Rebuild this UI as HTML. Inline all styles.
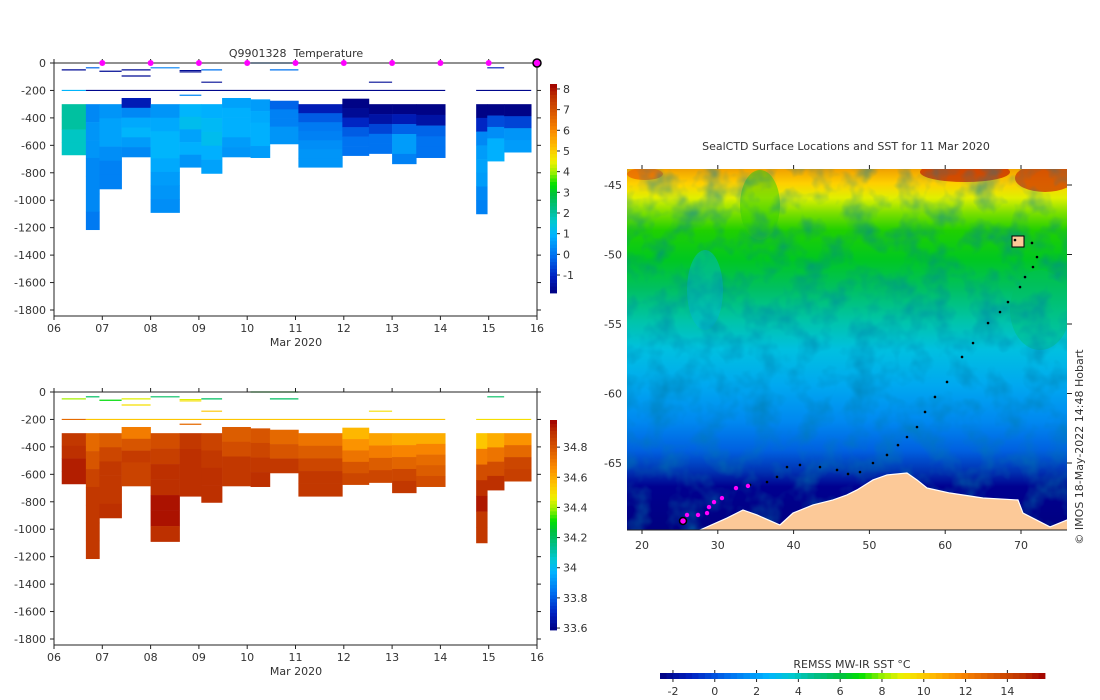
<!DOCTYPE html>
<html><head><meta charset="utf-8"><style>
html,body{margin:0;padding:0;background:#fff;}
svg{display:block;font-family:"DejaVu Sans","Liberation Sans",sans-serif;}
text{fill:#333;font-size:11px;white-space:pre;}
</style></head><body>
<svg id="root" width="1100" height="700" viewBox="0 0 1100 700">
<defs>
<linearGradient id="sstGrad" x1="0" y1="0" x2="0" y2="1">
<stop offset="0" stop-color="#f0a000"/><stop offset="0.04" stop-color="#ffd000"/>
<stop offset="0.08" stop-color="#e0f000"/><stop offset="0.12" stop-color="#80e000"/>
<stop offset="0.17" stop-color="#20d000"/><stop offset="0.25" stop-color="#00c820"/>
<stop offset="0.33" stop-color="#00c060"/><stop offset="0.42" stop-color="#00c4a8"/>
<stop offset="0.5" stop-color="#00c0e0"/><stop offset="0.6" stop-color="#00a8f0"/>
<stop offset="0.7" stop-color="#0088f0"/><stop offset="0.78" stop-color="#0060e0"/>
<stop offset="0.84" stop-color="#0030b0"/><stop offset="0.88" stop-color="#000090"/>
<stop offset="1" stop-color="#000080"/>
</linearGradient>
<filter id="noise" x="0" y="0" width="100%" height="100%">
<feTurbulence type="fractalNoise" baseFrequency="0.04" numOctaves="3" seed="4"/>
<feColorMatrix type="matrix" values="0 0 0 0 0  0 0 0 0 0.2  0 0 0 0 0.4  0 0 0 1.2 -0.5"/>
</filter>
<clipPath id="mapClip"><rect x="627" y="169" width="440" height="361"/></clipPath>
</defs>
<g id="top"></g>
<g id="bot"></g>
<g id="map"></g>
</svg>
<script>
const NS="http://www.w3.org/2000/svg";
// ---- profile data ----
const colStart=[6.16,6.66,6.94,7.40,8.00,8.60,9.05,9.48,10.07,10.47,11.06,11.97,12.52,13.00,13.50,14.74,14.97,15.32];
const colEnd  =[6.66,6.94,7.40,8.00,8.60,9.05,9.48,10.07,10.47,11.06,11.97,12.52,13.00,13.50,14.10,14.97,15.32,15.88];
const colTop  =[300,300,300,255,300,300,300,255,265,275,300,260,300,300,300,300,300,300];
const colBottom=[670,1215,918,685,1090,760,805,685,690,590,760,675,660,735,690,1100,715,650];
const tempLayers=[[2.0,2.0,1.7,1.7],[0.3,0.5,0.5,0.3,0.3,0.3,0.1],[0.5,0.7,0.7,0.4,0.2,0.2],[-1.2,0.3,0.8,1.0,0.6,0.3],
[0.5,0.8,1.0,1.0,0.8,0.6,0.5,0.4],[1.0,1.2,0.7,0.9,0.5],[0.9,1.1,1.2,0.9,0.7],[0.7,0.9,0.9,0.9,0.6,0.5],[0.6,0.8,0.9,0.9,0.6],
[-0.2,0.2,0.2,0.5,0.5],[-1.2,-0.3,0.1,0.2,0.4,0.5,0.5],[-1.8,-1.6,-1.0,-0.3,0.0,0.0],[-1.8,-1.4,-0.6,0.0,0.0],
[-1.8,-1.2,-0.2,0.6,0.6,0.2],[-1.8,-1.4,-0.2,0.0,0.0],[-1.8,-1.0,0.3,0.6,0.7,0.6,0.3,0.2],[-1.8,-0.5,0.4,0.9,0.9],[-1.8,-0.6,0.5,0.6]];
const salLayers=[[34.88,34.9,34.93,34.93],[34.75,34.8,34.85,34.88,34.88,34.88,34.88],[34.78,34.84,34.88,34.88,34.88,34.9],
[34.7,34.8,34.87,34.85,34.85],[34.82,34.86,34.9,34.9,34.95,34.95,34.9],[34.88,34.9,34.9,34.9],[34.85,34.88,34.9,34.9],
[34.78,34.82,34.88,34.88],[34.8,34.84,34.88,34.9],[34.75,34.8,34.88],[34.72,34.78,34.84,34.88,34.88],
[34.58,34.65,34.72,34.8,34.84],[34.62,34.7,34.78,34.84],[34.6,34.68,34.76,34.84,34.88],[34.6,34.68,34.74,34.78,34.82],
[34.55,34.7,34.82,34.9,34.94,34.88,34.88],[34.6,34.72,34.82,34.9],[34.65,34.75,34.84,34.86]];
const segStart=[6.16,6.66,6.94,7.40,7.40,8.00,8.60,8.60,9.05,9.05,10.47,10.07,12.52,14.97,6.16,6.66,14.74,8.60];
const segEnd  =[6.66,6.94,7.40,8.00,8.00,8.60,9.05,9.05,9.48,9.48,11.06,11.06,13.00,15.32,6.66,14.10,15.88,9.05];
const segDepth=[50,35,60,50,95,35,55,65,50,140,50,0,140,35,200,200,200,235];
const segTemp =[-1.6,-0.2,-1.6,-1.6,-1.6,0.2,-1.6,-1.6,0.0,-1.6,0.0,0.0,-1.6,-1.2,1.0,-1.7,-1.7,0.3];
const segSal  =[34.4,34.2,34.3,34.45,34.5,34.2,34.45,34.5,34.2,34.55,34.2,34.28,34.5,34.2,34.75,34.55,34.5,34.75];
const markerDays=[7,8,9,10,11,12,13,14,15];
const dayTicks=[6,7,8,9,10,11,12,13,14,15,16];
const dayLabels=["06","07","08","09","10","11","12","13","14","15","16"];
const depthTicks=[0,-200,-400,-600,-800,-1000,-1200,-1400,-1600,-1800];
const tempCbTicks=[8,7,6,5,4,3,2,1,0,-1];
const salCbTicks=[34.8,34.6,34.4,34.2,34,33.8,33.6];
// ---- map data ----
const trackLon=[69.21,71.45,72.11,71.58,70.53,69.87,68.28,67.23,65.65,63.67,62.22,60.24,58.65,57.34,56.28,54.96,53.77,52.32,50.47,48.76,47.18,45.73,43.48,40.84,39.13,37.81,36.49,34.25];
const trackLat=[-48.96,-49.17,-50.18,-50.9,-51.62,-52.34,-53.42,-54.14,-54.93,-56.37,-57.37,-59.17,-60.25,-61.33,-62.41,-63.13,-63.71,-64.42,-65.0,-65.65,-65.79,-65.5,-65.29,-65.14,-65.29,-66.0,-66.37,-66.58];
const recentLon=[33.98,32.4,30.55,29.5,28.84,28.58,27.39,25.94];
const recentLat=[-66.65,-66.8,-67.52,-67.81,-68.17,-68.6,-68.74,-68.74];
const lastLon=[25.41], lastLat=[-69.17];
const lonTicks=[20,30,40,50,60,70];
const latTicks=[-45,-50,-55,-60,-65];
const sstTicks=[-2,0,2,4,6,8,10,12,14];
const coastLon=[18,27.65,31.21,33.32,35.17,38.2,39.92,42.56,45.2,47.04,48.36,50.47,52.32,54.96,56.28,57.6,60.63,64.99,69.6,70.26,73.83,76.07,77,77,18];
const coastLat=[-70.5,-69.82,-68.96,-68.38,-68.74,-69.46,-68.6,-68.02,-67.66,-67.3,-66.94,-66.22,-65.86,-65.72,-66.22,-66.8,-67.16,-67.52,-67.66,-68.6,-69.6,-69.1,-69.1,-70.5,-70.5];

function el(p,tag,attrs,txt){const e=document.createElementNS(NS,tag);for(const k in attrs)e.setAttribute(k,attrs[k]);if(txt!==undefined)e.textContent=txt;p.appendChild(e);return e;}
const stops=[[0,[0,0,128]],[0.08,[0,32,192]],[0.18,[0,112,240]],[0.28,[0,180,255]],[0.34,[0,200,210]],[0.40,[0,190,140]],[0.47,[0,192,64]],[0.52,[0,224,0]],[0.58,[160,240,0]],[0.63,[240,240,0]],[0.70,[255,192,0]],[0.78,[250,135,0]],[0.87,[215,85,0]],[0.94,[190,50,0]],[1,[160,0,0]]];
function cmap(f){f=Math.max(0,Math.min(1,f));for(let i=1;i<stops.length;i++){if(f<=stops[i][0]){const a=stops[i-1],b=stops[i];const t=(f-a[0])/(b[0]-a[0]);const c=a[1].map((v,j)=>Math.round(v+(b[1][j]-v)*t));return `rgb(${c[0]},${c[1]},${c[2]})`;}}return "rgb(160,0,0)";}

function panel(g,y0,y1800,vmin,vmax,layers,segVals,cbTop,cbBot,cbTicks,cbFmt,showMarkers,title){
  const xL=54,xR=537,axB=y1800+6;
  const xs=d=>xL+(d-6)*(xR-xL)/10;
  const ys=z=>y0+z*(y1800-y0)/1800;
  const f=v=>(v-vmin)/(vmax-vmin);
  for(let i=0;i<colStart.length;i++){
    const L=layers[i],n=L.length,h=(colBottom[i]-colTop[i])/n;
    for(let k=0;k<n;k++){
      const r=el(g,'rect',{x:xs(colStart[i]),y:ys(colTop[i]+k*h),width:xs(colEnd[i])-xs(colStart[i])+0.3,height:ys(h)-ys(0)+0.3,fill:cmap(f(L[k]))});
      
      
    }
  }
  for(let i=0;i<segStart.length;i++){
    const l=el(g,'line',{x1:xs(segStart[i]),x2:xs(segEnd[i]),y1:ys(segDepth[i]),y2:ys(segDepth[i]),stroke:cmap(f(segVals[i])),'stroke-width':1.2});
    
    
  }
  el(g,'rect',{x:xL,y:y0,width:xR-xL,height:axB-y0,fill:'none',stroke:'#222','stroke-width':1});
  for(let i=0;i<dayTicks.length;i++){
    const x=xs(dayTicks[i]);
    el(g,'line',{x1:x,x2:x,y1:axB,y2:axB+4,stroke:'#222'});
    el(g,'line',{x1:x,x2:x,y1:y0,y2:y0-4,stroke:'#222'});
    const t=el(g,'text',{x:x,y:axB+16,'text-anchor':'middle'},dayLabels[i]);
    
    
  }
  for(const d of depthTicks){
    const y=ys(-d);
    el(g,'line',{x1:xL-4,x2:xL,y1:y,y2:y,stroke:'#222'});
    el(g,'line',{x1:xR,x2:xR+4,y1:y,y2:y,stroke:'#222'});
    const t=el(g,'text',{x:xL-8,y:y+4,'text-anchor':'end'},String(d));
    
    
  }
  const xt=el(g,'text',{x:296,y:axB+30,'text-anchor':'middle'},'Mar 2020');
  
  
  if(title){const tt=el(g,'text',{x:296,y:y0-6,'text-anchor':'middle'},title);
    
    }
  if(showMarkers){
    for(const d of markerDays){const c=el(g,'circle',{cx:xs(d),cy:y0,r:3,fill:'#ff00ff'});
      
      }
    const c=el(g,'circle',{cx:xs(16),cy:y0,r:4,fill:'#ff00ff',stroke:'#000','stroke-width':1.5});
    
    
  }
  const cbX=550,cbW=7,N=60;
  const cy=v=>cbBot-(v-vmin)/(vmax-vmin)*(cbBot-cbTop);
  for(let k=0;k<N;k++){
    const v0=vmin+(vmax-vmin)*k/N,v1=vmin+(vmax-vmin)*(k+1)/N;
    el(g,'rect',{x:cbX,y:cy(v1),width:cbW,height:cy(v0)-cy(v1)+0.4,fill:cmap((k+0.5)/N)});
  }
  for(const v of cbTicks){const y=cy(v);
    el(g,'line',{x1:cbX+cbW,x2:cbX+cbW+3,y1:y,y2:y,stroke:'#222'});
    const t=el(g,'text',{x:cbX+cbW+6,y:y+4},cbFmt(v));
    
    }
}
panel(document.getElementById('top'),63,310,-1.87,8.24,tempLayers,segTemp,84,293,tempCbTicks,v=>String(v),true,'Q9901328  Temperature');
panel(document.getElementById('bot'),392,639,33.587,34.98,salLayers,segSal,420,630,salCbTicks,v=>String(v),false,null);

// ---- map ----
(function(){
  const g=document.getElementById('map');
  const mx=lon=>642+(lon-20)*7.58, my=lat=>185-(lat+45)*13.9;
  const mt=el(g,'text',{x:846,y:150,'text-anchor':'middle'},'SealCTD Surface Locations and SST for 11 Mar 2020');
  
  
  const cg=el(g,'g',{'clip-path':'url(#mapClip)'});
  el(cg,'rect',{x:627,y:169,width:440,height:361,fill:'url(#sstGrad)'});
  el(cg,'ellipse',{cx:965,cy:172,rx:45,ry:10,fill:'#c83000',opacity:0.8});
  el(cg,'ellipse',{cx:1045,cy:178,rx:30,ry:14,fill:'#d04000',opacity:0.8});
  el(cg,'ellipse',{cx:645,cy:174,rx:18,ry:6,fill:'#e86000',opacity:0.7});
  el(cg,'ellipse',{cx:760,cy:205,rx:20,ry:35,fill:'#30d000',opacity:0.5});
  el(cg,'ellipse',{cx:705,cy:290,rx:18,ry:40,fill:'#00b8d8',opacity:0.45});
  el(cg,'ellipse',{cx:1040,cy:310,rx:30,ry:40,fill:'#00c060',opacity:0.35});
  el(cg,'rect',{x:627,y:169,width:440,height:361,filter:'url(#noise)'});
  let pts=coastLon.map((lo,i)=>mx(lo)+','+my(coastLat[i])).join(' ');
  const land=el(cg,'polygon',{points:pts,fill:'#fcc998',stroke:'#fff','stroke-width':1.2});
  
  
  const kg=el(cg,'rect',{x:1012,y:236,width:12,height:11,fill:'#fcc998',stroke:'#000','stroke-width':1});
  
  
  for(let i=0;i<trackLon.length;i++){const c=el(cg,'circle',{cx:mx(trackLon[i]),cy:my(trackLat[i]),r:1.3,fill:'#000'});
    
    }
  for(let i=0;i<recentLon.length;i++){const c=el(cg,'circle',{cx:mx(recentLon[i]),cy:my(recentLat[i]),r:2.2,fill:'#ff00ff'});
    
    }
  const lc=el(cg,'circle',{cx:mx(lastLon[0]),cy:my(lastLat[0]),r:3.5,fill:'#ff00ff',stroke:'#000','stroke-width':1.5});
  
  
  el(g,'line',{x1:627,x2:1067,y1:530,y2:530,stroke:'#222'});
  for(const lo of lonTicks){const x=mx(lo);
    el(g,'line',{x1:x,x2:x,y1:530,y2:534,stroke:'#222'});
    el(g,'line',{x1:x,x2:x,y1:169,y2:165,stroke:'#222'});
    const t=el(g,'text',{x:x,y:549,'text-anchor':'middle'},String(lo));
    
    }
  for(const la of latTicks){const y=my(la);
    el(g,'line',{x1:1067,x2:1072,y1:y,y2:y,stroke:'#222'});
    const t=el(g,'text',{x:622,y:y+4,'text-anchor':'end'},String(la));
    
    }
  const cp=el(g,'text',{x:1083,y:447,'text-anchor':'middle',transform:'rotate(-90 1083 447)','font-size':'10'},'© IMOS 18-May-2022 14:48 Hobart');
  
  
  const vmin=-2.62,vmax=15.8,x0=660,x1=1045,N=60;
  const cx=v=>x0+(v-vmin)/(vmax-vmin)*(x1-x0);
  for(let k=0;k<N;k++) el(g,'rect',{x:x0+(x1-x0)*k/N,y:673,width:(x1-x0)/N+0.4,height:6,fill:cmap((k+0.5)/N)});
  for(const v of sstTicks){const x=cx(v);
    el(g,'line',{x1:x,x2:x,y1:670,y2:673,stroke:'#222'});
    el(g,'line',{x1:x,x2:x,y1:679,y2:682,stroke:'#222'});
    const t=el(g,'text',{x:x,y:695,'text-anchor':'middle'},String(v));
    
    }
  const ct=el(g,'text',{x:852,y:668,'text-anchor':'middle'},'REMSS MW-IR SST °C');
  
  
})();
</script>
</body></html>
